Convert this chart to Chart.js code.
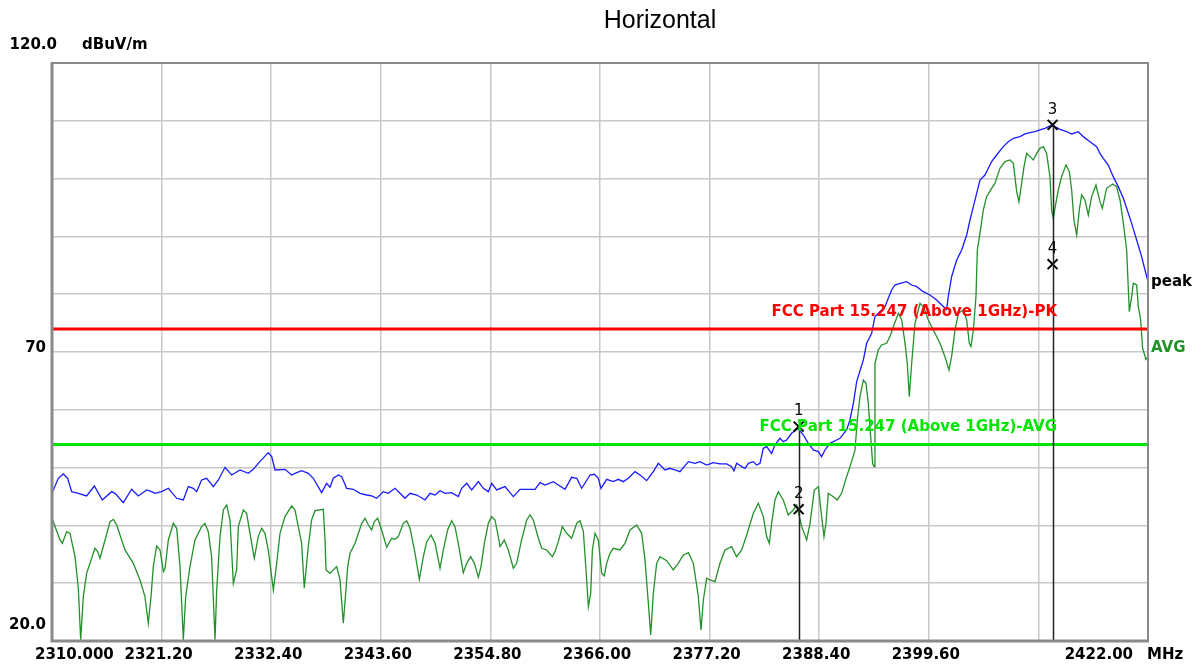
<!DOCTYPE html>
<html>
<head>
<meta charset="utf-8">
<script src="https://cdn.jsdelivr.net/npm/chart.js@4.4.1/dist/chart.umd.min.js"></script>
<style>
  html, body { margin: 0; padding: 0; background: #fff; }
  canvas { display: block; }
</style>
</head>
<body>
<canvas id="emiChart" width="1200" height="668"></canvas>
<script>
// axis ticks
const xTickValues = [2310, 2321.2, 2332.4, 2343.6, 2354.8, 2366, 2377.2, 2388.4, 2399.6, 2410.8, 2422];
const xTickLabels = ['2310.000', '2321.20', '2332.40', '2343.60', '2354.80', '2366.00', '2377.20', '2388.40', '2399.60', '', '2422.00'];
const yTickLabels = { 120: '120.0', 70: '70', 20: '20.0' };

// limit lines (dBuV/m)
const limitPK = 74;
const limitAVG = 54;

// peak trace (blue)
const peakFreq = [
  2310.0, 2310.65, 2311.16, 2311.6, 2312.01, 2312.69, 2313.54, 2314.33, 2315.14, 2316.1,
  2316.44, 2317.29, 2318.14, 2318.82, 2319.67, 2320.18, 2320.52, 2321.21, 2321.89, 2322.74,
  2323.42, 2323.93, 2324.44, 2324.78, 2325.29, 2325.8, 2326.49, 2327.0, 2327.68, 2328.36,
  2329.21, 2330.06, 2330.57, 2331.08, 2332.1, 2332.45, 2332.79, 2333.81, 2334.49, 2334.83,
  2335.51, 2336.19, 2336.7, 2337.55, 2338.06, 2338.41, 2338.75, 2339.26, 2339.6, 2340.11,
  2340.8, 2341.48, 2342.16, 2342.67, 2343.18, 2343.86, 2344.37, 2345.05, 2345.56, 2346.07,
  2346.59, 2347.27, 2348.12, 2348.63, 2349.14, 2349.65, 2350.16, 2350.84, 2351.52, 2351.86,
  2352.38, 2352.89, 2353.57, 2354.08, 2354.59, 2354.93, 2355.44, 2356.29, 2357.14, 2357.83,
  2358.68, 2359.36, 2359.87, 2360.38, 2361.23, 2361.74, 2362.42, 2363.1, 2363.62, 2364.13,
  2364.98, 2365.42, 2365.83, 2366.1, 2366.68, 2367.36, 2367.87, 2368.38, 2368.9, 2369.58,
  2370.09, 2370.77, 2371.45, 2371.96, 2372.64, 2373.15, 2373.66, 2374.17, 2375.03, 2375.71,
  2376.22, 2376.9, 2377.58, 2378.26, 2378.94, 2379.45, 2379.69, 2379.96, 2380.48, 2380.82,
  2381.16, 2381.67, 2382.01, 2382.35, 2382.69, 2383.03, 2383.54, 2383.88, 2384.39, 2384.73,
  2385.07, 2385.58, 2386.27, 2386.78, 2387.29, 2387.8, 2388.31, 2388.65, 2388.99, 2389.5,
  2390.18, 2390.52, 2391.2, 2391.54, 2391.89, 2392.23, 2392.91, 2393.25, 2393.76, 2394.1,
  2395.12, 2395.46, 2395.8, 2396.14, 2396.66, 2397.34, 2397.85, 2398.36, 2399.04, 2399.72,
  2400.4, 2400.91, 2401.42, 2401.59, 2401.93, 2402.45, 2402.96, 2403.47, 2403.81, 2404.15,
  2404.49, 2404.83, 2405.34, 2405.68, 2406.02, 2406.53, 2407.21, 2407.72, 2408.24, 2408.92,
  2409.43, 2409.94, 2410.45, 2410.96, 2411.47, 2411.98, 2412.49, 2413.0, 2413.69, 2414.2,
  2414.88, 2415.39, 2416.07, 2416.75, 2417.09, 2417.43, 2417.94, 2418.45, 2418.96, 2419.48,
  2419.82, 2420.33, 2420.84, 2421.35, 2421.69, 2422.0
];
const peakLevel = [
  45.6, 48.15, 48.9, 48.15, 45.84, 45.55, 45.09, 46.82, 44.4, 45.84,
  45.55, 43.94, 46.25, 45.09, 46.13, 45.84, 45.55, 45.84, 46.42, 44.69,
  44.4, 46.71, 46.42, 45.84, 47.86, 48.15, 46.71, 47.86, 50.05, 48.72,
  49.59, 49.01, 49.7, 50.74, 52.59, 51.9, 49.59, 49.7, 48.72, 49.01,
  49.47, 49.01, 48.15, 45.67, 47.28, 46.6, 48.15, 48.72, 48.44, 46.42,
  46.25, 45.55, 45.26, 45.09, 44.69, 45.84, 45.55, 46.42, 45.55, 44.69,
  45.55, 45.26, 44.4, 45.55, 45.26, 46.01, 45.55, 45.67, 44.98, 46.42,
  47.28, 46.13, 47.57, 46.42, 45.84, 47.28, 46.13, 46.71, 44.98, 46.25,
  46.25, 46.25, 47.4, 46.99, 47.57, 46.99, 46.25, 48.32, 48.15, 46.42,
  48.72, 48.84, 48.15, 46.42, 47.97, 47.57, 47.97, 47.57, 48.15, 49.3,
  48.72, 47.74, 49.3, 50.74, 49.59, 49.88, 49.59, 49.3, 51.03, 50.74,
  51.03, 50.45, 50.86, 50.63, 50.63, 50.17, 49.42, 50.74, 50.17, 49.88,
  50.74, 51.03, 50.45, 50.74, 53.34, 53.62, 52.47, 53.91, 55.07, 54.49,
  54.78, 55.93, 56.8, 55.64, 54.2, 53.05, 52.76, 51.9, 53.05, 54.2,
  54.78, 55.07, 56.51, 58.24, 61.12, 64.87, 68.62, 71.5, 73.23, 76.12,
  77.84, 79.29, 80.73, 81.59, 81.88, 82.17, 81.59, 81.31, 80.44, 79.86,
  79.0, 78.13, 77.38, 79.57, 83.03, 85.92, 87.65, 90.24, 92.84, 95.15,
  97.45, 99.76, 100.62, 101.78, 102.93, 104.08, 105.53, 106.39, 106.97, 107.26,
  107.72, 107.95, 108.12, 108.41, 108.7, 109.1, 108.99, 108.53, 108.12, 107.72,
  108.12, 107.26, 106.39, 105.53, 104.37, 103.51, 102.35, 100.34, 98.61, 96.59,
  94.86, 92.26, 89.38, 86.49, 84.19, 82.17
];

// average trace (green)
const avgFreq = [
  2310.0, 2310.82, 2311.06, 2311.5, 2311.84, 2312.35, 2312.69, 2312.93, 2313.2, 2313.54,
  2313.88, 2314.39, 2314.67, 2314.9, 2315.42, 2315.93, 2316.27, 2316.61, 2317.12, 2317.46,
  2318.31, 2318.99, 2319.5, 2319.84, 2320.12, 2320.35, 2320.69, 2321.04, 2321.38, 2321.55,
  2321.89, 2322.4, 2322.74, 2323.08, 2323.42, 2323.66, 2324.1, 2324.61, 2325.29, 2325.63,
  2325.97, 2326.31, 2326.66, 2326.83, 2327.17, 2327.51, 2327.85, 2328.19, 2328.53, 2328.87,
  2329.04, 2329.55, 2329.89, 2330.23, 2330.67, 2331.08, 2331.42, 2331.76, 2332.1, 2332.62,
  2332.96, 2333.3, 2333.81, 2334.49, 2334.83, 2335.17, 2335.51, 2335.78, 2336.19, 2336.53,
  2336.87, 2337.72, 2337.9, 2338.0, 2338.41, 2338.58, 2339.09, 2339.43, 2339.77, 2340.01,
  2340.22, 2340.45, 2340.97, 2341.31, 2341.65, 2341.99, 2342.33, 2342.67, 2342.94, 2343.28,
  2343.69, 2344.2, 2344.71, 2345.05, 2345.39, 2345.9, 2346.24, 2346.59, 2347.1, 2347.54,
  2347.95, 2348.29, 2348.73, 2349.14, 2349.65, 2349.99, 2350.43, 2350.84, 2351.18, 2351.52,
  2352.03, 2352.38, 2352.78, 2353.16, 2353.57, 2353.84, 2354.18, 2354.59, 2354.93, 2355.27,
  2355.61, 2355.78, 2356.22, 2356.63, 2357.14, 2357.48, 2357.99, 2358.51, 2358.85, 2359.19,
  2359.7, 2360.04, 2360.55, 2361.13, 2361.4, 2361.74, 2362.15, 2362.59, 2363.1, 2363.62,
  2363.96, 2364.3, 2364.64, 2364.81, 2365.05, 2365.22, 2365.49, 2365.83, 2366.17, 2366.44,
  2366.68, 2367.02, 2367.36, 2368.04, 2368.55, 2369.07, 2369.75, 2370.26, 2370.6, 2370.94,
  2371.18, 2371.45, 2371.79, 2372.13, 2372.81, 2373.49, 2374.0, 2374.52, 2375.03, 2375.54,
  2376.05, 2376.32, 2376.56, 2376.9, 2377.24, 2377.75, 2378.26, 2378.77, 2379.45, 2379.96,
  2380.48, 2380.99, 2381.67, 2382.18, 2382.69, 2383.03, 2383.3, 2383.54, 2383.88, 2384.22,
  2384.73, 2385.24, 2385.75, 2386.1, 2386.61, 2387.12, 2387.46, 2387.9, 2388.31, 2388.65,
  2388.89, 2389.09, 2389.33, 2389.84, 2390.25, 2390.69, 2391.2, 2391.71, 2392.06, 2392.29,
  2392.57, 2392.91, 2393.18, 2393.42, 2393.66, 2393.86, 2394.0, 2394.1, 2394.44, 2394.78,
  2395.29, 2395.63, 2395.97, 2396.49, 2396.83, 2397.17, 2397.4, 2397.61, 2397.85, 2398.19,
  2398.7, 2399.04, 2399.55, 2400.06, 2400.74, 2401.25, 2401.66, 2401.93, 2402.28, 2402.62,
  2403.13, 2403.47, 2403.74, 2403.91, 2404.15, 2404.42, 2404.56, 2404.83, 2405.17, 2405.51,
  2406.02, 2406.36, 2406.87, 2407.38, 2407.9, 2408.24, 2408.58, 2408.81, 2409.09, 2409.33,
  2409.6, 2409.94, 2410.28, 2410.62, 2410.96, 2411.3, 2411.64, 2411.98, 2412.15, 2412.32,
  2412.49, 2412.83, 2413.17, 2413.62, 2413.96, 2414.2, 2414.43, 2414.71, 2414.98, 2415.22,
  2415.56, 2415.9, 2416.24, 2416.68, 2417.09, 2417.33, 2417.77, 2418.39, 2418.79, 2419.14,
  2419.48, 2419.82, 2420.09, 2420.33, 2420.5, 2420.84, 2421.01, 2421.25, 2421.45, 2421.79,
  2422.0
];
const avgLevel = [
  41.23, 37.48, 36.9, 38.92, 38.63, 34.6, 29.12, 20.2, 27.67, 31.71,
  33.44, 36.04, 35.46, 34.31, 37.48, 40.65, 41.05, 40.07, 37.48, 35.75,
  33.44, 30.56, 27.67, 23.06, 27.67, 32.87, 36.44, 35.75, 32.0, 32.58,
  37.48, 40.36, 39.5, 32.87, 20.2, 27.67, 32.87, 37.48, 39.79, 40.36,
  38.92, 34.6, 20.2, 28.83, 38.06, 42.67, 43.53, 40.94, 29.98, 32.29,
  39.79, 42.67, 42.09, 38.63, 34.31, 38.06, 39.5, 38.63, 35.75, 28.83,
  33.44, 38.63, 41.52, 43.36, 42.67, 39.79, 36.9, 29.12, 36.33, 40.94,
  42.55, 42.78, 37.48, 32.29, 31.71, 32.0, 32.87, 30.56, 23.06, 28.25,
  32.87, 35.17, 36.9, 38.63, 40.36, 41.23, 40.07, 39.21, 40.65, 41.23,
  39.21, 36.21, 37.77, 37.6, 38.06, 40.36, 40.82, 39.5, 35.17, 30.67,
  34.6, 37.19, 38.34, 36.9, 32.58, 35.75, 39.21, 40.82, 39.79, 36.9,
  31.83, 33.44, 34.6, 33.44, 31.02, 32.87, 36.9, 40.36, 41.52, 40.94,
  38.06, 36.33, 37.48, 35.75, 32.58, 33.44, 37.48, 40.94, 41.8, 40.94,
  37.77, 36.04, 35.75, 34.6, 35.46, 37.19, 39.79, 38.63, 37.77, 40.36,
  40.82, 38.92, 30.56, 25.95, 28.25, 35.75, 38.63, 37.48, 31.71, 31.25,
  33.44, 35.17, 36.04, 35.75, 36.9, 39.21, 40.07, 38.63, 34.02, 26.52,
  21.04, 28.25, 33.44, 34.59, 33.9, 32.29, 33.44, 34.88, 35.29, 33.44,
  27.67, 21.91, 27.1, 30.85, 30.56, 30.27, 33.44, 35.75, 36.33, 34.59,
  35.75, 38.34, 42.09, 43.82, 41.52, 38.06, 36.9, 40.36, 44.4, 45.84,
  44.4, 41.8, 42.67, 43.53, 39.78, 37.48, 40.36, 46.13, 46.7, 41.52,
  38.06, 40.36, 45.55, 44.97, 44.4, 45.55, 48.43, 51.03, 53.05, 58.24,
  62.27, 65.16, 64.58, 61.12, 55.36, 50.74, 50.17, 68.04, 70.35, 71.21,
  71.5, 72.66, 74.38, 76.69, 75.54, 71.5, 68.04, 62.27, 68.04, 74.96,
  78.42, 77.85, 75.54, 73.81, 71.5, 69.19, 66.89, 69.19, 73.81, 76.69,
  77.27, 75.54, 71.5, 70.92, 73.81, 79.57, 87.65, 90.53, 94.57, 96.88,
  98.32, 99.18, 101.78, 102.93, 103.22, 102.64, 97.74, 96.01, 99.18, 102.07,
  104.37, 103.8, 103.22, 104.37, 105.24, 105.53, 104.37, 100.34, 94.57, 93.13,
  94.86, 98.03, 100.34, 102.35, 101.2, 98.03, 92.84, 90.24, 94.57, 97.16,
  96.3, 93.71, 96.88, 98.89, 96.01, 94.86, 98.32, 99.07, 98.61, 96.3,
  92.26, 87.65, 76.98, 79.57, 81.88, 81.59, 77.85, 75.54, 70.64, 68.73,
  69.19
];

// markers 1..4
const markerNames = ['1', '2', '3', '4'];
const markerFreq = [2386.3, 2386.3, 2412.25, 2412.25];
const markerLevel = [57.1, 42.8, 109.3, 85.2];

const LABEL_FONT = "bold 15px 'DejaVu Sans'";
const AVG_GREEN = '#23912a';
const LIMIT_GREEN = '#00e600';

function xy(fs, vs) {
  return fs.map((f, i) => ({ x: f, y: vs[i] }));
}

// frame, labels, marker lines
const decoPlugin = {
  id: 'deco',
  beforeDraw(chart) {
    const ctx = chart.ctx;
    ctx.save();
    ctx.fillStyle = '#fff';
    ctx.fillRect(0, 0, chart.width, chart.height);
    ctx.restore();
  },
  afterDatasetsDraw(chart) {
    const ctx = chart.ctx;
    const xs = chart.scales.x, ys = chart.scales.y;
    const area = chart.chartArea;
    ctx.save();
    // vertical lines under marker pairs
    ctx.strokeStyle = '#222';
    ctx.lineWidth = 1.5;
    const done = {};
    markerFreq.forEach((f, i) => {
      const top = Math.max(...markerLevel.filter((v, j) => markerFreq[j] === f));
      if (done[f]) return;
      done[f] = true;
      const px = Math.round(xs.getPixelForValue(f)) + 0.5;
      ctx.beginPath();
      ctx.moveTo(px, ys.getPixelForValue(top));
      ctx.lineTo(px, area.bottom);
      ctx.stroke();
    });
    ctx.restore();
  },
  afterDraw(chart) {
    const ctx = chart.ctx;
    const xs = chart.scales.x, ys = chart.scales.y;
    const a = chart.chartArea;
    ctx.save();

    // frame
    ctx.strokeStyle = '#8a8a8a';
    ctx.lineWidth = 2;
    ctx.strokeRect(a.left, a.top, a.right - a.left, a.bottom - a.top);
    ctx.lineWidth = 3;
    ctx.beginPath();
    ctx.moveTo(a.left, a.top - 1);
    ctx.lineTo(a.left, a.bottom);
    ctx.lineTo(a.right + 1, a.bottom);
    ctx.stroke();

    // title
    ctx.fillStyle = '#000';
    ctx.font = "25px 'Liberation Sans'";
    ctx.textAlign = 'center';
    ctx.textBaseline = 'middle';
    ctx.fillText('Horizontal', 660, 21);

    // x tick labels
    ctx.font = LABEL_FONT;
    const ly = a.bottom + 14;
    xTickValues.forEach((v, i) => {
      const txt = xTickLabels[i];
      if (!txt) return;
      const px = xs.getPixelForValue(v);
      if (i === 0) {
        ctx.textAlign = 'left';
        ctx.fillText(txt, px - 17, ly);
      } else if (i === xTickValues.length - 1) {
        ctx.textAlign = 'right';
        ctx.fillText(txt, px - 15, ly);
      } else {
        ctx.textAlign = 'center';
        ctx.fillText(txt, px - 3, ly);
      }
    });
    ctx.textAlign = 'left';
    ctx.fillText('MHz', a.right - 1, ly);

    // y tick labels
    ctx.textAlign = 'right';
    ctx.fillText(yTickLabels[120], a.left + 5, ys.getPixelForValue(120) - 18);
    ctx.fillText(yTickLabels[70], a.left - 6, ys.getPixelForValue(70) - 4);
    ctx.fillText(yTickLabels[20], a.left - 6, ys.getPixelForValue(20) - 16);
    ctx.textAlign = 'left';
    ctx.fillText('dBuV/m', a.left + 30, ys.getPixelForValue(120) - 18);

    // limit line labels
    ctx.textAlign = 'right';
    ctx.fillStyle = '#ff0000';
    ctx.fillText('FCC Part 15.247 (Above 1GHz)-PK', 1057, ys.getPixelForValue(limitPK) - 17);
    ctx.fillStyle = LIMIT_GREEN;
    ctx.fillText('FCC Part 15.247 (Above 1GHz)-AVG', 1057, ys.getPixelForValue(limitAVG) - 17);

    // trace names at right end
    ctx.textAlign = 'left';
    ctx.fillStyle = '#000';
    ctx.fillText('peak', a.right + 3, ys.getPixelForValue(peakLevel[peakLevel.length - 1]));
    ctx.fillStyle = AVG_GREEN;
    ctx.fillText('AVG', a.right + 3, ys.getPixelForValue(avgLevel[avgLevel.length - 1]) - 9);

    // marker numbers
    ctx.fillStyle = '#000';
    ctx.font = "15px 'DejaVu Sans'";
    ctx.textAlign = 'center';
    markerNames.forEach((n, i) => {
      ctx.fillText(n, xs.getPixelForValue(markerFreq[i]), ys.getPixelForValue(markerLevel[i]) - 15);
    });
    ctx.restore();
  }
};

const ctx = document.getElementById('emiChart').getContext('2d');
new Chart(ctx, {
  type: 'line',
  data: {
    datasets: [
      {
        label: 'Markers',
        type: 'scatter',
        data: xy(markerFreq, markerLevel),
        pointStyle: 'crossRot',
        pointRadius: 7,
        borderColor: '#000',
        borderWidth: 2,
        showLine: false,
        order: 0
      },
      {
        label: 'FCC Part 15.247 (Above 1GHz)-PK',
        data: xy([2310, 2422], [limitPK, limitPK]),
        borderColor: '#ff0000',
        borderWidth: 3,
        pointRadius: 0,
        order: 1
      },
      {
        label: 'FCC Part 15.247 (Above 1GHz)-AVG',
        data: xy([2310, 2422], [limitAVG, limitAVG]),
        borderColor: LIMIT_GREEN,
        borderWidth: 3,
        pointRadius: 0,
        order: 1
      },
      {
        label: 'peak',
        data: xy(peakFreq, peakLevel),
        borderColor: '#1a1aff',
        borderWidth: 1.3,
        pointRadius: 0,
        tension: 0,
        order: 2
      },
      {
        label: 'AVG',
        data: xy(avgFreq, avgLevel),
        borderColor: AVG_GREEN,
        borderWidth: 1.3,
        pointRadius: 0,
        tension: 0,
        order: 3
      }
    ]
  },
  options: {
    responsive: false,
    animation: false,
    devicePixelRatio: 1,
    layout: { padding: { left: 52, top: 63, right: 52, bottom: 27 } },
    plugins: {
      legend: { display: false },
      tooltip: { enabled: false },
      title: { display: false }
    },
    scales: {
      x: {
        type: 'linear',
        min: 2310,
        max: 2422,
        afterBuildTicks(scale) {
          scale.ticks = xTickValues.map(v => ({ value: v }));
        },
        ticks: { display: false },
        grid: { color: '#c8c8c8', lineWidth: 1.5, drawTicks: false },
        border: { display: false }
      },
      y: {
        min: 20,
        max: 120,
        ticks: { display: false, stepSize: 10 },
        grid: { color: '#c8c8c8', lineWidth: 1.5, drawTicks: false },
        border: { display: false }
      }
    }
  },
  plugins: [decoPlugin]
});
</script>
</body>
</html>
